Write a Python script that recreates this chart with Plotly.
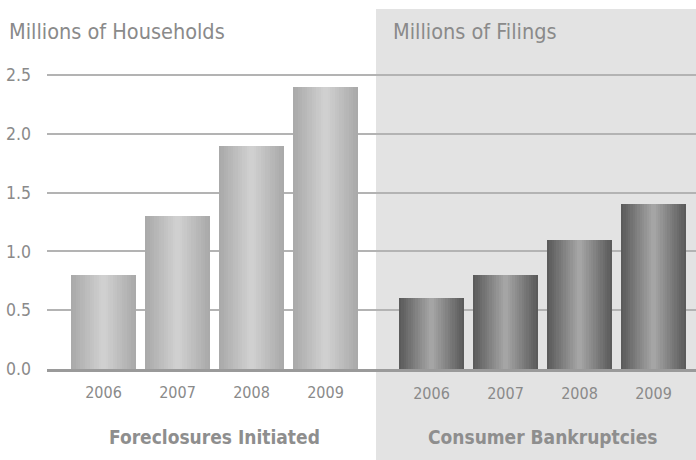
import plotly.graph_objects as go

# ---- data ----
years = ["2006", "2007", "2008", "2009"]
foreclosures = [0.8, 1.3, 1.9, 2.4]      # millions of households
bankruptcies = [0.6, 0.8, 1.1, 1.4]      # millions of filings
y_tickvals = [0.0, 0.5, 1.0, 1.5, 2.0, 2.5]
y_ticktext = ["0.0", "0.5", "1.0", "1.5", "2.0", "2.5"]
left_unit = "Millions of Households"
right_unit = "Millions of Filings"
left_group = "Foreclosures Initiated"
right_group = "Consumer Bankruptcies"

# ---- style ----
W, H = 696, 460
ML, MR, MT, MB = 47, 0, 60, 91
plot_w = W - ML - MR
plot_h = H - MT - MB
px_per_unit = 117.6
px_per_cat = 74.0
bar_w = 0.878
FONT = "Liberation Sans Narrow, DejaVu Sans Condensed, Roboto Condensed, Roboto, sans-serif"
TXT = "#8a8a8a"
N = 28  # slices for gradient


def hex2rgb(h):
    h = h.lstrip("#")
    return [int(h[i:i + 2], 16) for i in (0, 2, 4)]


def grad(edge, center, t):
    a, b = hex2rgb(edge), hex2rgb(center)
    c = [round(a[k] + (b[k] - a[k]) * t) for k in range(3)]
    return "rgb(%d,%d,%d)" % tuple(c)


fig = go.Figure()

def add_bars(values, xaxis, edge, center):
    step = bar_w / N
    for i in range(N):
        t = 1 - abs(2 * (i + 0.5) / N - 1)
        w = step * (1.6 if i < N - 1 else 1.0)
        fig.add_trace(go.Bar(
            x=years, y=values, xaxis=xaxis, yaxis="y",
            width=w, offset=-bar_w / 2 + i * step,
            marker=dict(color=grad(edge, center, t), line=dict(width=0)),
            showlegend=False, hoverinfo="skip",
        ))

add_bars(foreclosures, "x", "#a8a8a8", "#d2d2d2")
add_bars(bankruptcies, "x2", "#585858", "#a8a8a8")

# category ranges so both groups sit on one shared plot area
span = plot_w / px_per_cat
x1_start = -(103.5 - ML) / px_per_cat
x2_start = -(431.5 - ML) / px_per_cat

yearfont = dict(family=FONT, size=16, color=TXT)
ytickfont = dict(family=FONT, size=17.5, color=TXT)

fig.update_layout(
    width=W, height=H,
    margin=dict(l=ML, r=MR, t=MT, b=MB, pad=0),
    paper_bgcolor="white",
    plot_bgcolor="rgba(0,0,0,0)",
    barmode="overlay",
    bargap=0,
    showlegend=False,
    xaxis=dict(type="category", domain=[0, 1], range=[x1_start, x1_start + span],
               showgrid=False, zeroline=False, showline=True, linecolor="#9a9a9a",
               linewidth=2.5, ticks="", tickfont=yearfont, ticklabelstandoff=7,
               fixedrange=True),
    xaxis2=dict(type="category", overlaying="x", anchor="y", side="bottom",
                range=[x2_start, x2_start + span],
                showgrid=False, zeroline=False, showline=False, ticks="",
                tickfont=yearfont, ticklabelstandoff=13, fixedrange=True),
    yaxis=dict(range=[0, plot_h / px_per_unit], tickvals=y_tickvals, ticktext=y_ticktext,
               showgrid=True, gridcolor="#b3b3b3", gridwidth=1.5, zeroline=False,
               showline=False, ticks="", tickfont=ytickfont, ticklabelstandoff=15,
               fixedrange=True),
)

def px_x(p):
    return (p - ML) / plot_w

def px_y(p):
    return (H - MB - p) / plot_h

# grey background for right panel
fig.add_shape(type="rect", xref="paper", yref="paper",
              x0=px_x(376), x1=px_x(W), y0=px_y(H), y1=px_y(9),
              fillcolor="#e3e3e3", line=dict(width=0), layer="below")

unit_font = dict(family=FONT, size=21.5, color=TXT)
fig.add_annotation(text=left_unit, xref="paper", yref="paper", x=px_x(7), y=px_y(32),
                   xanchor="left", yanchor="middle", showarrow=False, font=unit_font)
fig.add_annotation(text=right_unit, xref="paper", yref="paper", x=px_x(391), y=px_y(32),
                   xanchor="left", yanchor="middle", showarrow=False, font=unit_font)

group_font = dict(family=FONT, size=19, color="#8e8e8e", weight="bold")
fig.add_annotation(text=left_group, xref="x", yref="paper", x=1.5, y=px_y(437),
                   xanchor="center", yanchor="middle", showarrow=False, font=group_font)
fig.add_annotation(text=right_group, xref="x2", yref="paper", x=1.5, y=px_y(437),
                   xanchor="center", yanchor="middle", showarrow=False, font=group_font)

fig.write_html("out.html")
